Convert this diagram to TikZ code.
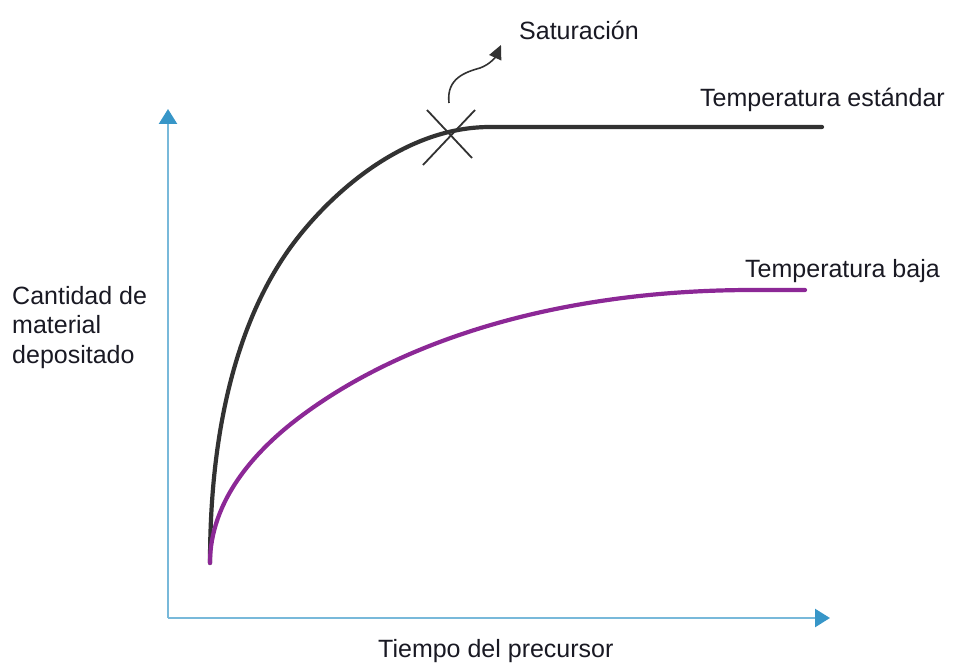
\documentclass[tikz,border=0pt]{standalone}
\usepackage{fontspec}
\setmainfont{Liberation Sans}
\usetikzlibrary{arrows.meta}
\definecolor{axisblue}{RGB}{120,185,218}
\definecolor{tipblue}{RGB}{55,150,200}
\definecolor{curveblack}{RGB}{50,50,50}
\definecolor{curvepurple}{RGB}{140,40,150}
\definecolor{txt}{RGB}{25,25,35}
\begin{document}
\begin{tikzpicture}[x=1pt,y=-1pt,
  axis/.style={draw=axisblue,line width=2.5pt,-{Triangle[length=15pt,width=18pt,color=tipblue,fill=tipblue]}},
  curve/.style={line width=4.2pt,line cap=round,line join=round},
  lbl/.style={font=\fontsize{25}{29.5}\selectfont,text=txt,inner sep=0pt,anchor=base west},
  xmark/.style={draw=curveblack,line width=1.8pt}]
\useasboundingbox (0,0) rectangle (953,663);
% axes
\coordinate (o) at (168,618);
\coordinate (ytip) at (168,109);
\coordinate (xtip) at (830,618);
\draw[axis] (o) -- (ytip);
\draw[axis] (o) -- (xtip);
% curves
\coordinate (start) at (210,563);
\coordinate (bmid) at (290,248);
\coordinate (sat) at (490,127);
\coordinate (hend) at (822,127);
\coordinate (pmid) at (296,420);
\coordinate (pknee) at (753,290);
\coordinate (pend) at (805,290);
\draw[curve,curveblack] (start) .. controls (210,400) and (250,303.6) .. (bmid)
  .. controls (325,199.4) and (400,127) .. (sat) -- (hend);
\draw[curve,curvepurple] (start) .. controls (210,500) and (256,450.8) .. (pmid)
  .. controls (396,343) and (553,290) .. (pknee) -- (pend);
% X mark
\coordinate (xc) at (449,132);
\draw[xmark] (423,165) -- (475,110);
\draw[xmark] (427,110) -- (472,158);
% labels
\node[lbl] (tsat) at (519,40) {Saturación};
\node[lbl] (tstd) at (700,107) {Temperatura estándar};
\node[lbl] (tbaja) at (745,277) {Temperatura baja};
\node[lbl] (tx) at (378,657) {Tiempo del precursor};
\node[lbl,anchor=north west,align=left] (ty) at (12,286) {Cantidad de\\material\\depositado};
% saturation arrow
\coordinate (sarr) at (449,103);
\coordinate (sarrtip) at (501,45);
\draw[curveblack,line width=1.6pt,-{Triangle[length=14pt,width=13pt]}] (sarr) .. controls (446,78) and (466,72) .. (480,68) .. controls (491,64) and (496,56) .. (sarrtip);
\end{tikzpicture}
\end{document}
